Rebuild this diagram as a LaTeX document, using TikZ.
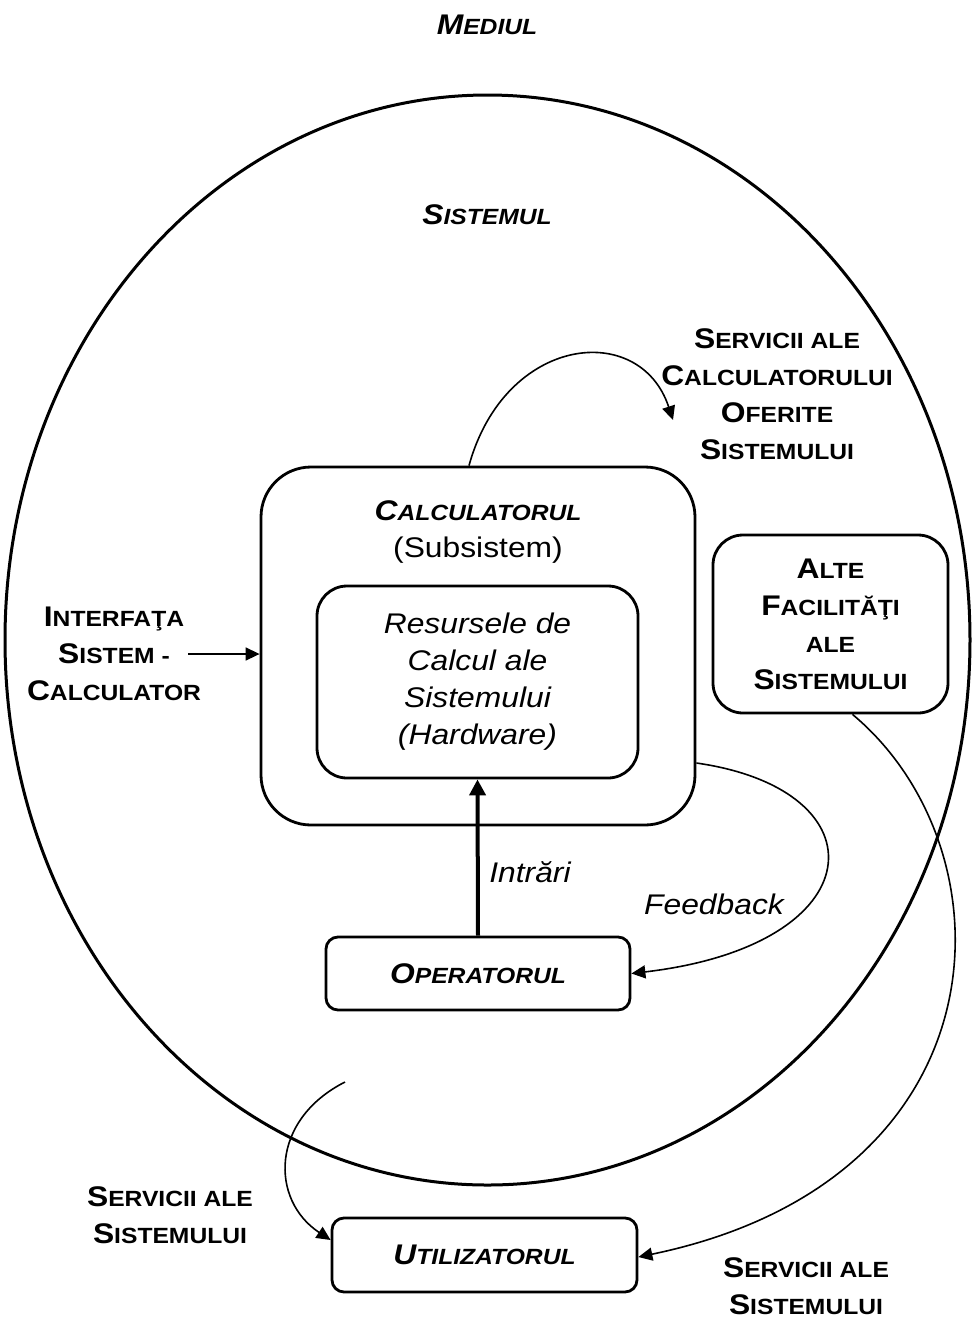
\documentclass[tikz,border=0pt]{standalone}
\usepackage{fontspec}
\setmainfont{Liberation Sans}[FakeStretch=1.12]
\usepackage{tikz}
\usetikzlibrary{arrows.meta}

% small capitals: first letter full size, the rest smaller
\newcommand{\smc}[2]{#1{\fontsize{11}{18.5}\selectfont #2}}

\begin{document}
\begin{tikzpicture}[x=0.5pt,y=-0.5pt,
    txt/.style={font=\fontsize{14.2}{18.5}\selectfont, align=center, inner sep=0pt},
    hdr/.style={txt, font=\fontsize{14.2}{18.5}\selectfont\bfseries\itshape},
    lbl/.style={txt, font=\fontsize{14.2}{18.5}\selectfont\bfseries},
    box/.style={draw, line width=1.4pt, rounded corners=#1},
    box/.default=6pt,
    conn/.style={line width=0.8pt, -{Triangle[length=7pt,width=6.5pt]}}]
    \useasboundingbox (0,0) rectangle (973,1319);
    % Draw the environment and the system
    \node[hdr] (mediul) at (487,25) {\smc{M}{EDIUL}};
    \draw[line width=1.5pt] (487.5,640) ellipse [x radius=241.25pt, y radius=272.5pt];
    \node[hdr] (sistemul) at (487,215) {\smc{S}{ISTEMUL}};
    % Draw the computer (subsystem) and its resources
    \node[box=25pt, minimum width=217pt, minimum height=179pt] (calc) at (478,646) {};
    \node[txt] (calctitle) at (478,532)
        {{\bfseries\itshape\smc{C}{ALCULATORUL}}\\(Subsistem)};
    \node[box=15pt, txt, font=\fontsize{14.2}{18.5}\selectfont\itshape,
        minimum width=160.5pt, minimum height=96pt] (res) at (477.5,682)
        {Resursele de\\Calcul ale\\Sistemului\\(Hardware)};
    \node[box=15pt, lbl, minimum width=117.5pt, minimum height=89pt] (alte) at (830.5,624)
        {\smc{A}{LTE}\\\smc{F}{ACILITĂŢI}\\\smc{}{ALE}\\\smc{S}{ISTEMULUI}};
    % Operator and user
    \node[box, hdr, minimum width=152pt, minimum height=36.5pt] (oper) at (478,973.5)
        {\smc{O}{PERATORUL}};
    \node[box, hdr, minimum width=152.5pt, minimum height=37pt] (util) at (484.5,1255)
        {\smc{U}{TILIZATORUL}};
    % Labels of the connectors
    \node[lbl] (servcalc) at (777,394)
        {\smc{S}{ERVICII ALE}\\\smc{C}{ALCULATORULUI}\\\smc{O}{FERITE}\\\smc{S}{ISTEMULUI}};
    \node[lbl] (iface) at (114,654)
        {\smc{I}{NTERFAŢA}\\\smc{S}{ISTEM -}\\\smc{C}{ALCULATOR}};
    \node[txt, font=\fontsize{14.2}{18.5}\selectfont\itshape] (intrari) at (530,872) {Intrări};
    \node[txt, font=\fontsize{14.2}{18.5}\selectfont\itshape] (feedback) at (714,904) {Feedback};
    \node[lbl] (servleft) at (170,1215) {\smc{S}{ERVICII ALE}\\\smc{S}{ISTEMULUI}};
    \node[lbl] (servright) at (806,1286) {\smc{S}{ERVICII ALE}\\\smc{S}{ISTEMULUI}};
    % Free ends of the connectors
    \coordinate (sctip) at (673,420);
    \coordinate (ifstart) at (188,654);
    \coordinate (svstart) at (345,1082);
    % Draw the connectors
    \draw[conn] ([xshift=-4.5pt]calc.north) .. controls (505,335) and (640,320) .. (sctip);
    \draw[conn] (ifstart) -- (ifstart -| calc.west);
    \draw[line width=2pt, -{Triangle[length=8pt,width=8pt]}] (oper.north) -- (res.south);
    \draw[conn] ([yshift=-58.5pt]calc.east) .. controls (885,790) and (875,945) .. (oper.east);
    \draw[conn] ([xshift=11pt]alte.south) .. controls (1015,850) and (1010,1180)
        .. ([yshift=-1pt]util.east);
    \draw[conn] (svstart) .. controls (270,1120) and (270,1200) .. ([yshift=7.5pt]util.west);
\end{tikzpicture}
\end{document}
